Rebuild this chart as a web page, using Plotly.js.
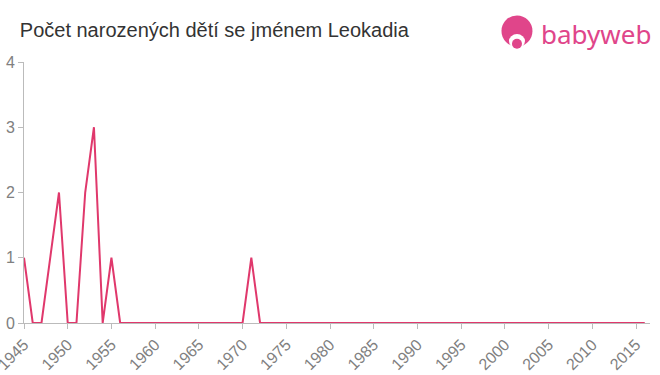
<!DOCTYPE html>
<html><head><meta charset="utf-8">
<script src="https://cdn.plot.ly/plotly-3.0.1.min.js"></script>
<style>html,body{margin:0;padding:0;background:#fff}#c{width:660px;height:375px}</style>
</head><body><div id="c"></div>
<script>
const years = [];
for (let y = 1945; y <= 2016; y++) years.push(y);
const counts = [1,0,0,1,2,0,0,2,3,0,1,0,0,0,0,0,0,0,0,0,0,0,0,0,0,0,1,0,0,0,0,0,0,0,0,0,0,0,0,0,0,0,0,0,0,0,0,0,0,0,0,0,0,0,0,0,0,0,0,0,0,0,0,0,0,0,0,0,0,0,0,0];
const tickYears = [1945,1950,1955,1960,1965,1970,1975,1980,1985,1990,1995,2000,2005,2010,2015];
const yTicks = [0,1,2,3,4];
const titleText = 'Počet narozených dětí se jménem Leokadia';
const brand = 'babyweb';

const trace = {x: years, y: counts, type: 'scatter', mode: 'lines',
  line: {color: '#e0386c', width: 2}, hoverinfo: 'x+y'};
const tf = {family: 'Liberation Sans, Arial, sans-serif', size: 16, color: '#808080'};
const layout = {
  width: 660, height: 375,
  margin: {l: 24, r: 10, t: 62, b: 52},
  paper_bgcolor: '#fff', plot_bgcolor: '#fff',
  showlegend: false,
  title: {text: titleText, x: 0.03, xanchor: 'left', y: 0.92, yanchor: 'middle',
    font: {family: 'Liberation Sans, Arial, sans-serif', size: 20, color: '#333'}},
  xaxis: {range: [1945, 2016.6], tickvals: tickYears, ticktext: tickYears.map(String),
    tickangle: -45, showgrid: false, zeroline: false, showline: true, linecolor: '#bbb', linewidth: 1,
    ticks: 'outside', ticklen: 5, tickcolor: '#bbb', ticklabeloverflow: 'allow',
    tickfont: tf},
  yaxis: {range: [0, 4], tickvals: yTicks, showgrid: false, zeroline: false, showline: true,
    linecolor: '#bbb', linewidth: 1, ticks: 'outside', ticklen: 5, tickcolor: '#bbb',
    ticklabeloverflow: 'allow', tickfont: tf},
  shapes: [
    {type: 'circle', xref: 'paper', yref: 'paper', xsizemode: 'pixel', ysizemode: 'pixel',
     xanchor: 0.7875, yanchor: 1.1188, x0: -15.5, x1: 15.5, y0: -15.5, y1: 15.5,
     fillcolor: '#e0458a', line: {width: 0}},
    {type: 'circle', xref: 'paper', yref: 'paper', xsizemode: 'pixel', ysizemode: 'pixel',
     xanchor: 0.7875, yanchor: 1.08, x0: -8, x1: 8, y0: -7, y1: 7,
     fillcolor: '#fff', line: {width: 0}},
    {type: 'circle', xref: 'paper', yref: 'paper', xsizemode: 'pixel', ysizemode: 'pixel',
     xanchor: 0.7875, yanchor: 1.07, x0: -5, x1: 5, y0: -5, y1: 5,
     fillcolor: '#e0458a', line: {width: 0}}
  ],
  annotations: [
    {text: brand, xref: 'paper', yref: 'paper', x: 1.005, y: 1.107, xanchor: 'right', yanchor: 'middle',
     showarrow: false, font: {family: 'Noto Sans, sans-serif', size: 26, color: '#e0458a'}}
  ]
};
Plotly.newPlot('c', [trace], layout, {displayModeBar: false, staticPlot: true});
</script></body></html>
